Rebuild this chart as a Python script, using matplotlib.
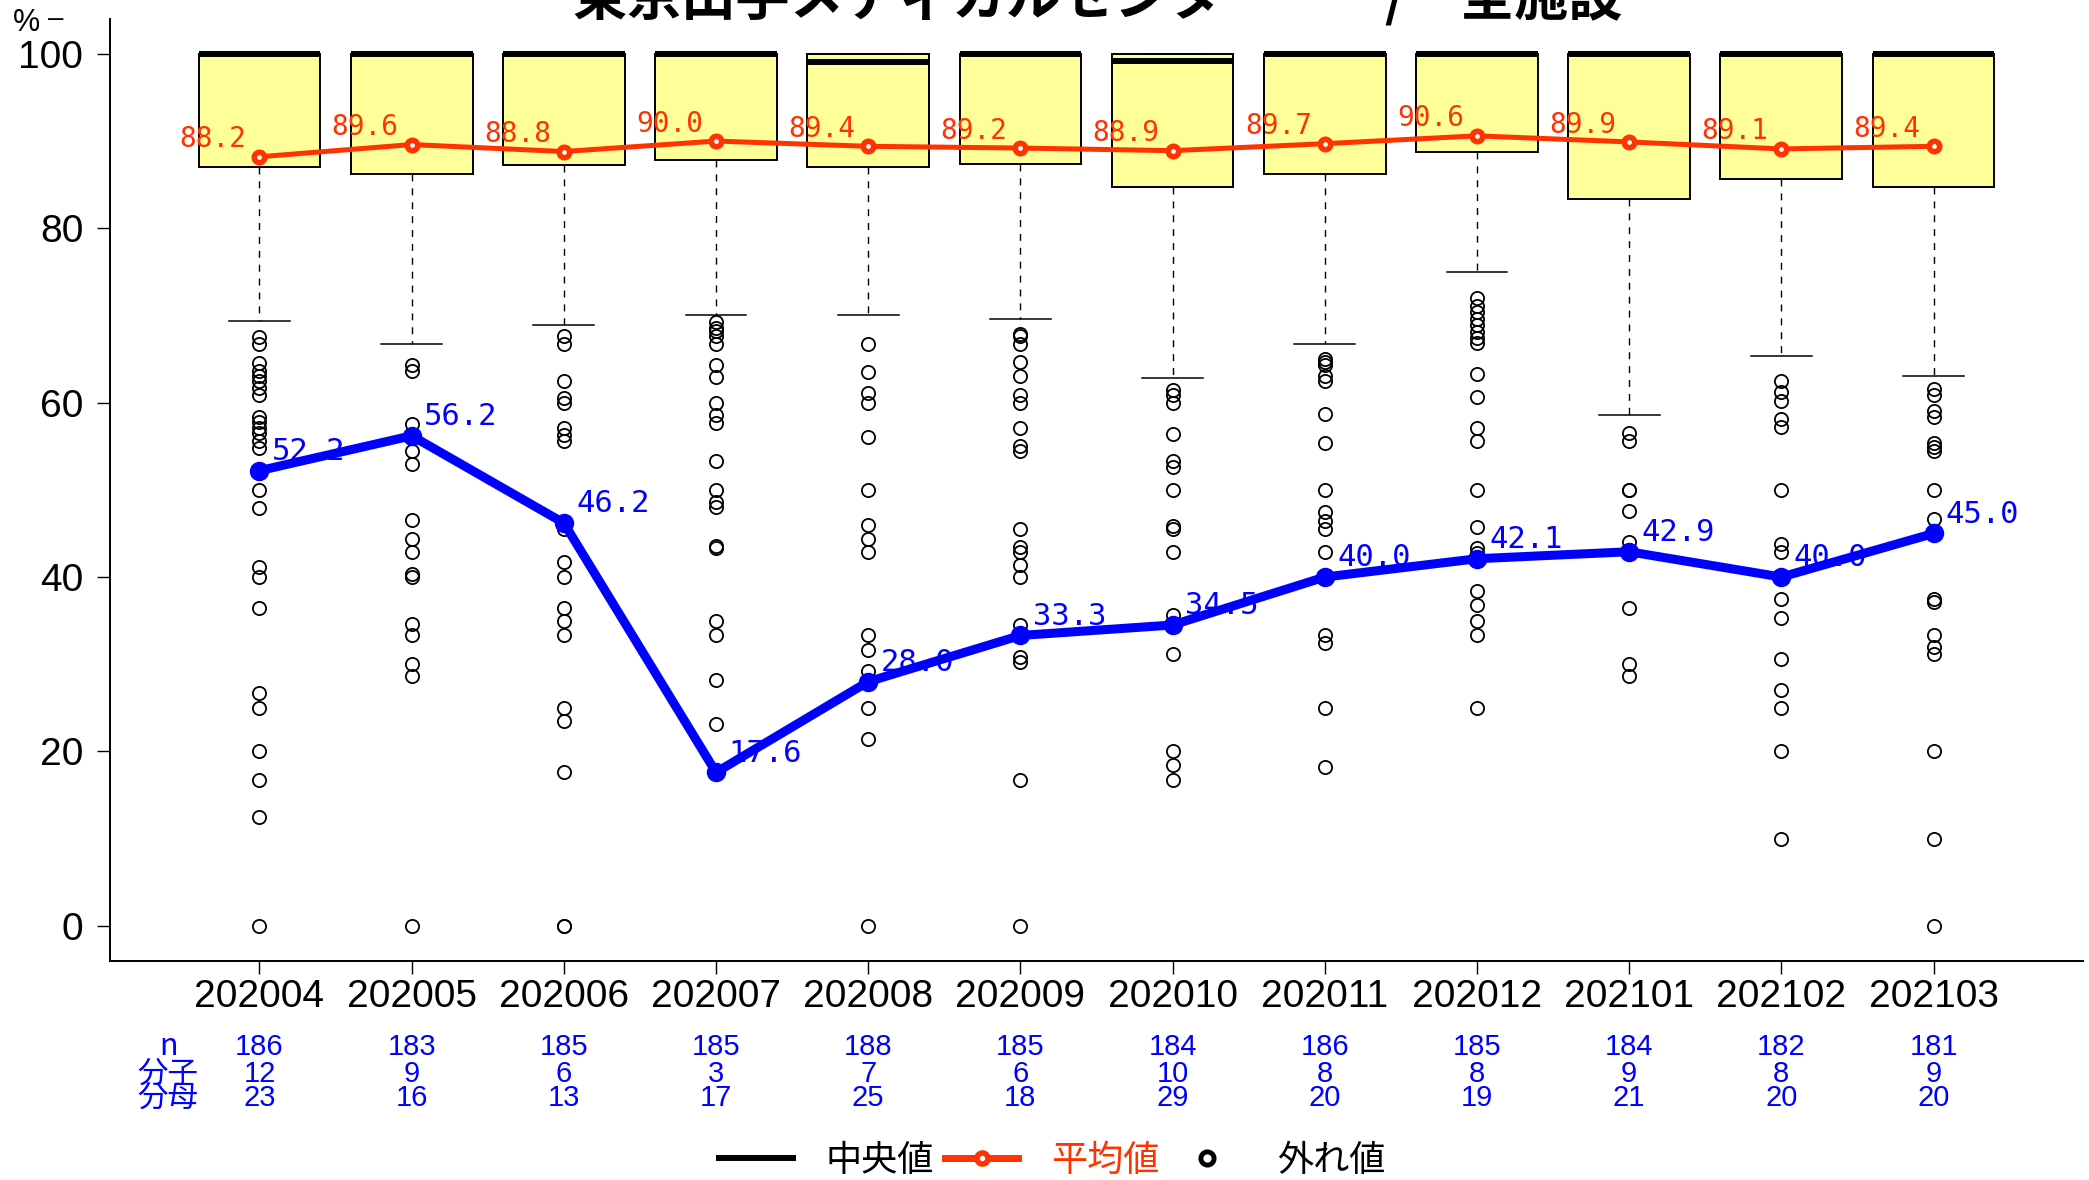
import numpy as np
import matplotlib
matplotlib.use("Agg")
import matplotlib.pyplot as plt
from matplotlib.lines import Line2D

plt.rcParams["font.family"] = ["Liberation Sans", "Noto Sans CJK JP", "DejaVu Sans"]

title = "東京山手メディカルセンター　　/　全施設"
months = ["202004", "202005", "202006", "202007", "202008", "202009",
          "202010", "202011", "202012", "202101", "202102", "202103"]

# box statistics per month
q1 = [87.0, 86.2, 87.3, 87.8, 87.0, 87.4, 84.7, 86.2, 88.7, 83.3, 85.6, 84.7]
med = [100, 100, 100, 100, 99.1, 100, 99.2, 100, 100, 100, 100, 100]
q3 = [100] * 12
whislo = [69.4, 66.7, 68.9, 70.0, 70.0, 69.6, 62.8, 66.7, 75.0, 58.6, 65.3, 63.0]
whishi = [100] * 12

outliers = [
    [67.5, 66.7, 64.5, 63.6, 63.1, 62.5, 61.7, 60.9, 58.3, 57.8, 57.1, 56.5, 55.6, 54.8,
     50.0, 47.9, 41.2, 40.0, 36.4, 26.7, 25.0, 20.0, 16.7, 12.5, 0.0],
    [64.3, 63.6, 57.5, 54.5, 53.0, 46.5, 44.4, 42.9, 40.3, 40.0, 34.6, 33.3, 30.0, 28.6, 0.0],
    [67.6, 66.7, 62.5, 60.5, 60.0, 57.1, 56.3, 55.6, 45.5, 41.7, 40.0, 36.4, 35.0, 33.3,
     25.0, 23.5, 17.6, 0.0, 0.0],
    [69.2, 68.6, 68.2, 67.6, 66.7, 64.3, 62.9, 60.0, 58.6, 57.7, 53.3, 50.0, 48.6, 48.0,
     43.6, 43.3, 35.0, 33.3, 28.2, 23.1],
    [66.7, 63.5, 61.1, 60.0, 56.1, 50.0, 46.0, 44.4, 42.9, 33.3, 31.6, 29.2, 25.0, 21.4, 0.0],
    [67.9, 67.6, 66.7, 64.7, 63.1, 60.9, 60.0, 57.1, 55.0, 54.5, 45.5, 43.5, 42.9, 41.4,
     40.0, 34.5, 30.8, 30.3, 16.7, 0.0],
    [61.5, 60.9, 60.0, 56.4, 53.3, 52.6, 50.0, 45.9, 45.5, 42.9, 35.7, 31.2, 20.0, 18.4, 16.7],
    [65.0, 64.7, 64.3, 63.0, 62.5, 58.7, 55.4, 50.0, 47.5, 46.4, 45.5, 42.9, 33.3, 32.4,
     25.0, 18.2],
    [72.0, 71.1, 70.4, 69.6, 68.9, 68.1, 67.4, 66.8, 63.3, 60.6, 57.1, 55.6, 50.0, 45.7,
     43.3, 42.8, 38.4, 36.8, 35.0, 33.3, 25.0],
    [56.5, 55.6, 50.0, 50.0, 47.6, 44.0, 36.4, 30.0, 28.6],
    [62.5, 61.2, 60.2, 58.1, 57.2, 50.0, 43.8, 42.9, 37.5, 35.3, 30.6, 27.0, 25.0, 20.0, 10.0],
    [61.6, 60.9, 59.1, 58.3, 55.4, 54.9, 54.4, 50.0, 46.7, 37.5, 37.1, 33.3, 32.0, 31.2,
     20.0, 10.0, 0.0],
]

mean_vals = [88.2, 89.6, 88.8, 90.0, 89.4, 89.2, 88.9, 89.7, 90.6, 89.9, 89.1, 89.4]
rate_vals = [52.2, 56.2, 46.2, 17.6, 28.0, 33.3, 34.5, 40.0, 42.1, 42.9, 40.0, 45.0]
n_vals = [186, 183, 185, 185, 188, 185, 184, 186, 185, 184, 182, 181]
num_vals = [12, 9, 6, 3, 7, 6, 10, 8, 8, 9, 8, 9]
den_vals = [23, 16, 13, 17, 25, 18, 29, 20, 19, 21, 20, 20]

red = "#FF3300"
blue = "#0000FF"
x = np.arange(1, len(months) + 1)

fig = plt.figure(figsize=(20.89, 11.80), dpi=100)
ax = fig.add_axes([0.0528, 0.18585, 0.94418, 0.79805])

stats = []
for i in range(len(months)):
    stats.append(dict(q1=q1[i], med=med[i], q3=q3[i], whislo=whislo[i],
                      whishi=whishi[i], fliers=outliers[i]))

ax.bxp(stats, positions=x, widths=0.8, capwidths=0.4, patch_artist=True, manage_ticks=False,
       boxprops=dict(facecolor="#FFFF99", edgecolor="black", linewidth=1.4),
       medianprops=dict(color="black", linewidth=4.3),
       whiskerprops=dict(color="black", linestyle=(0, (5, 5)), linewidth=1),
       capprops=dict(color="black", linewidth=1.1),
       flierprops=dict(marker="o", markerfacecolor="none", markeredgecolor="black",
                       markersize=9.5, markeredgewidth=1.3))

ax.plot(x, mean_vals, color=red, lw=3.6, marker="o", ms=7.5, mfc="white", mec=red,
        mew=4, zorder=4)
ax.plot(x, rate_vals, color=blue, lw=6.5, marker="o", ms=13, zorder=5)

for i in range(len(months)):
    ax.text(x[i] - 0.085, mean_vals[i] + 2.0, f"{mean_vals[i]:.1f}", color=red,
            family="DejaVu Sans Mono", fontsize=20, ha="right", va="center", zorder=6)
    ax.text(x[i] + 0.08, rate_vals[i] + 2.2, f"{rate_vals[i]:.1f}", color=blue,
            family="DejaVu Sans Mono", fontsize=22, ha="left", va="center", zorder=6)

ax.set_xlim(0.02, 12.98)
ax.set_ylim(-4, 104)
ax.set_yticks([0, 20, 40, 60, 80, 100])
ax.set_xticks(x, labels=months)
ax.tick_params(axis="both", labelsize=28, length=9.4, width=1)
ax.tick_params(axis="x", pad=3.6)
ax.tick_params(axis="y", pad=10)
for s in ["top", "right"]:
    ax.spines[s].set_visible(False)
for s in ["left", "bottom"]:
    ax.spines[s].set_linewidth(1.4)

# counts table under the axis
tr = ax.get_xaxis_transform()
rows = [("n", n_vals, -0.0916), ("分子", num_vals, -0.1203), ("分母", den_vals, -0.1459)]
for name, vals, yy in rows:
    ax.text(0.40, yy, name, transform=tr, color=blue, fontsize=22, ha="center",
            va="center", family=["Noto Sans CJK JP", "DejaVu Sans"], clip_on=False)
    for i in range(len(months)):
        ax.text(x[i], yy, str(vals[i]), transform=tr, color=blue, fontsize=21,
                ha="center", va="center", clip_on=False)

fig.text(0.5254, 0.9873, title, ha="center", va="baseline", fontsize=39, fontweight="bold",
         family=["Noto Sans CJK JP", "DejaVu Sans"])
fig.text(13 / 2089, 1 - 8 / 1180, "%", ha="left", va="top", fontsize=22)
fig.text(48 / 2089, 1 - 19 / 1180, "–", ha="left", va="center", fontsize=20)

handles = [
    Line2D([], [], color="black", lw=4.3),
    Line2D([], [], color=red, lw=5, marker="o", ms=8, mfc="white", mec=red, mew=4),
    Line2D([], [], ls="none", marker="o", ms=9.5, mfc="none", mec="black", mew=3.5),
]
leg = fig.legend(handles, ["中央値", "平均値", "外れ値"], loc="center",
                 bbox_to_anchor=(0.5038, 0.016), ncol=3, frameon=False,
                 handlelength=2.03, handletextpad=0.92, columnspacing=0.3,
                 prop=dict(family=["Noto Sans CJK JP", "DejaVu Sans"], size=26))
leg.get_texts()[1].set_color(red)

fig.savefig("out.png", dpi=100)
